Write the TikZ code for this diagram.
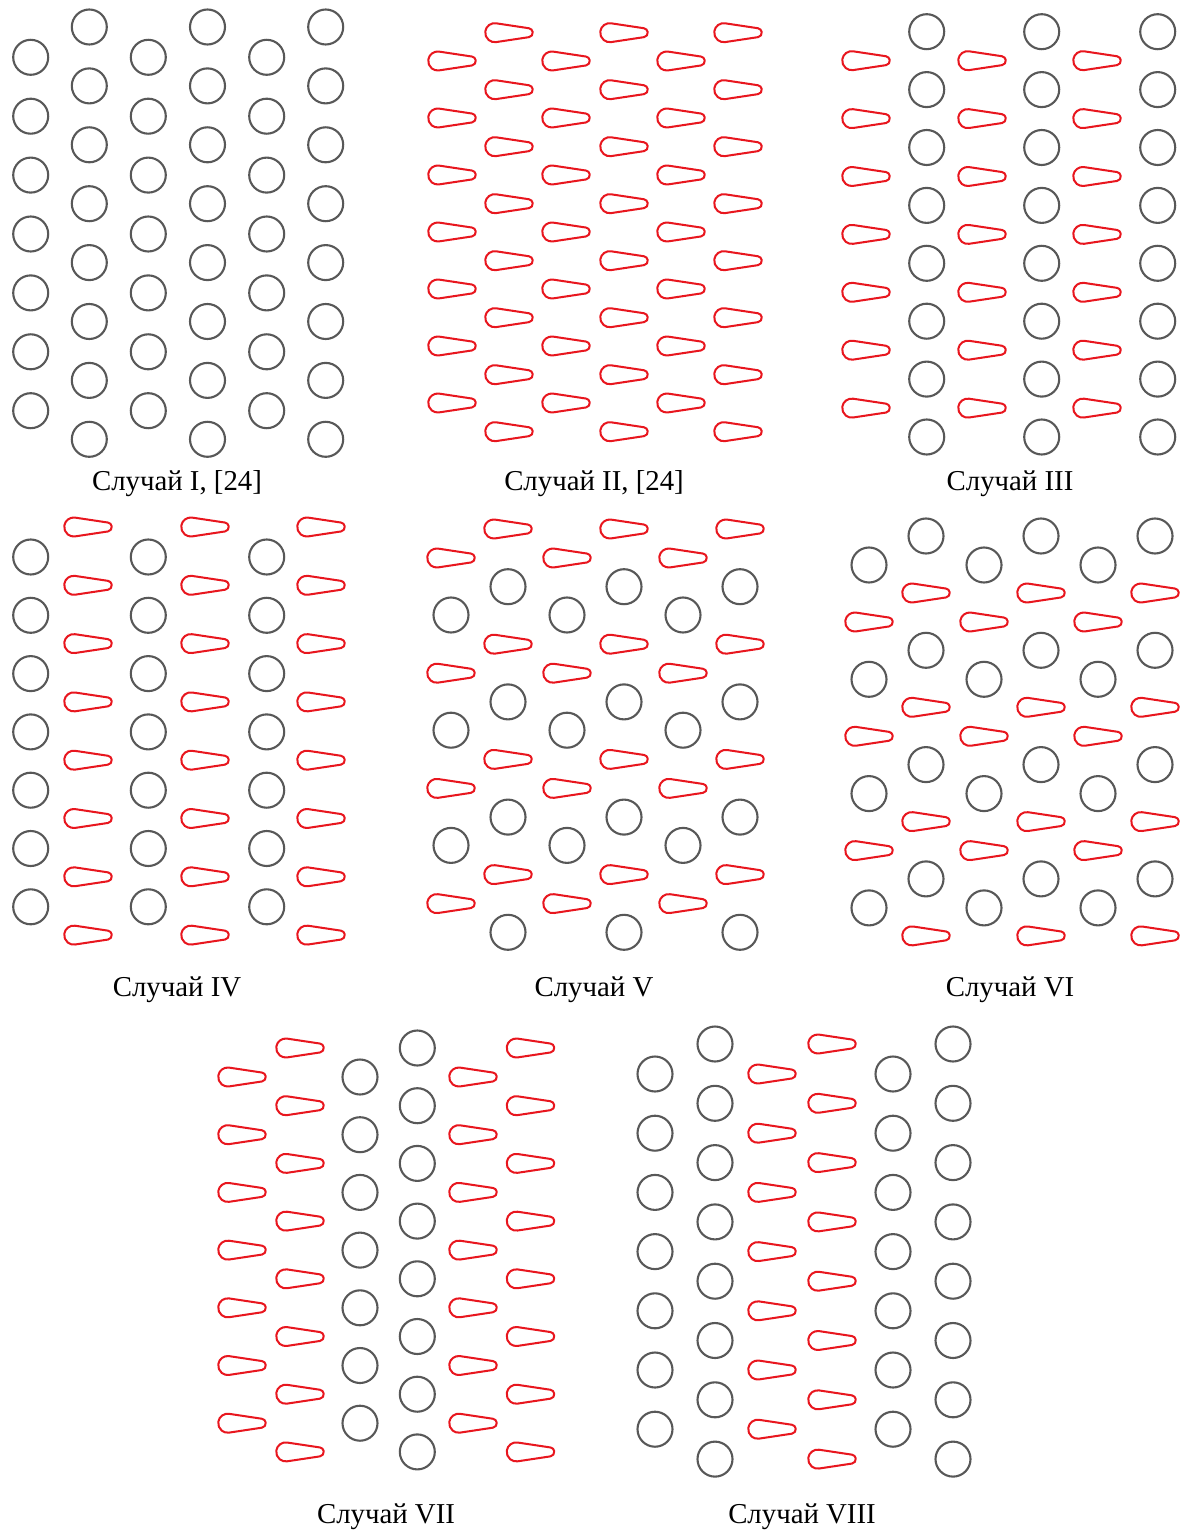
\documentclass[tikz,border=0pt]{standalone}
\usepackage{fontspec}
\setmainfont{Liberation Serif}
\definecolor{tubegray}{RGB}{88,88,88}
\definecolor{dropred}{RGB}{232,22,30}
\tikzset{
  tubeline/.style={draw=tubegray, line width=1.2pt},
  dropline/.style={draw=dropred, line width=1.15pt, line join=round},
  tube/.pic={\draw[tubeline] (0,0) circle[radius=17.5];},
  drop/.pic={\draw[dropline] (-12.89,9.39) arc[start angle=81.44, end angle=278.56, radius=9.5]
     -- (19.97,-4.45) arc[start angle=-81.44, end angle=81.44, radius=4.5] -- cycle;},
  lbl/.style={anchor=base, inner sep=0pt, font=\fontsize{16.4}{20}\selectfont}
}
% #1 pic, #2 x, #3 top y, #4 count, #5 pitch
\newcommand\tubecol[5]{\foreach \k in {1,...,#4} \pic at ({#2},{-(#3)-(\k-1)*(#5)}) {#1};}
\begin{document}
\begin{tikzpicture}[x=0.02cm,y=0.02cm]
\useasboundingbox (0,0) rectangle (1180,-1530);
% I
\foreach \x in {30.7,148.3,266.7} {\tubecol{tube}{\x}{57.3}{7}{58.9}}
\foreach \x in {89.3,207.5,325.7} {\tubecol{tube}{\x}{27}{8}{58.9}}
\node[lbl] (case1) at (177,-490) {Случай I, [24]};
% II
\foreach \x in {452,566,681} {\tubecol{drop}{\x}{61}{7}{57}}
\foreach \x in {509,624,738} {\tubecol{drop}{\x}{32.7}{8}{57}}
\node[lbl] (case2) at (594,-490) {Случай II, [24]};
% III
\foreach \x in {866,982,1097} {\tubecol{drop}{\x}{60.7}{7}{57.9}}
\foreach \x in {926.7,1041.7,1157.7} {\tubecol{tube}{\x}{31.7}{8}{57.9}}
\node[lbl] (case3) at (1010,-490) {Случай III};
% IV
\foreach \x in {30.7,148.3,266.7} {\tubecol{tube}{\x}{557}{7}{58.3}}
\foreach \x in {88,205,321} {\tubecol{drop}{\x}{527}{8}{58.3}}
\node[lbl] (case4) at (177,-996) {Случай IV};
% V
\foreach \x in {451,567,683} {\tubecol{drop}{\x}{558}{4}{115.2}\tubecol{tube}{\x}{615}{3}{115.2}}
\foreach \x in {508,624,740} {\tubecol{drop}{\x}{529}{4}{115.2}\tubecol{tube}{\x}{586.7}{4}{115.2}}
\node[lbl] (case5) at (594,-996) {Случай V};
% VI
\foreach \x in {869,984,1098} {\tubecol{tube}{\x}{565}{4}{114.3}\tubecol{drop}{\x}{622}{3}{114.3}}
\foreach \x in {926,1041,1155} {\tubecol{tube}{\x}{536}{4}{114.3}\tubecol{drop}{\x}{593}{4}{114.3}}
\node[lbl] (case6) at (1010,-996) {Случай VI};
% VII
\foreach \x in {242,473} {\tubecol{drop}{\x}{1077}{7}{57.7}}
\foreach \x in {300,530.5} {\tubecol{drop}{\x}{1048}{8}{57.7}}
\tubecol{tube}{360}{1077}{7}{57.7}
\tubecol{tube}{417.3}{1048}{8}{57.7}
\node[lbl] (case7) at (386,-1523) {Случай VII};
% VIII
\foreach \x in {655,893} {\tubecol{tube}{\x}{1074}{7}{59.2}}
\foreach \x in {715,953} {\tubecol{tube}{\x}{1044}{8}{59.3}}
\tubecol{drop}{772}{1074}{7}{59.2}
\tubecol{drop}{832}{1044}{8}{59.3}
\node[lbl] (case8) at (802,-1523) {Случай VIII};
\end{tikzpicture}
\end{document}
